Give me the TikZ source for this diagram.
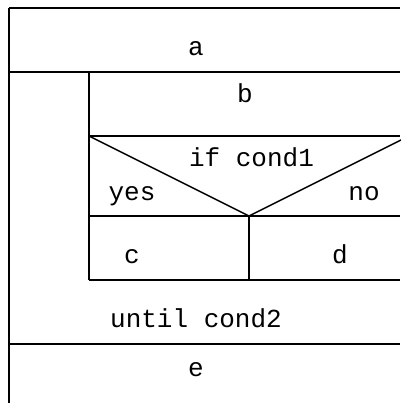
\documentclass[tikz,border=0pt]{standalone}
\usepackage{fontspec}
\setmonofont{Liberation Mono}
\begin{document}
\begin{tikzpicture}[x=1pt,y=-1pt,
  ln/.style={line width=1.5pt, black},
  lbl/.style={anchor=base, inner sep=0pt, font=\ttfamily\fontsize{26}{30}\selectfont}]
\useasboundingbox (0,0) rectangle (400,403);
% frame coordinates
\coordinate (tl) at (9,8);
\coordinate (tr) at (400,8);
\coordinate (al) at (9,72);
\coordinate (ar) at (400,72);
\coordinate (il) at (89,72);
\coordinate (bl) at (89,136);
\coordinate (br) at (400,136);
\coordinate (tip) at (249,216);
\coordinate (ytl) at (89,216);
\coordinate (ytr) at (400,216);
\coordinate (cl) at (89,280);
\coordinate (cr) at (400,280);
\coordinate (cm) at (249,280);
\coordinate (ul) at (9,344);
\coordinate (ur) at (400,344);
\coordinate (bot) at (9,403);
\coordinate (rtop) at (409,136);
% lines
\draw[ln] (tl) -- (tr);
\draw[ln] (tl) -- (bot);
\draw[ln] (al) -- (ar);
\draw[ln] (il) -- (cl);
\draw[ln] (bl) -- (br);
\draw[ln] (bl) -- (tip);
\draw[ln] (tip) -- (rtop);
\draw[ln] (ytl) -- (ytr);
\draw[ln] (tip) -- (cm);
\draw[ln] (cl) -- (cr);
\draw[ln] (ul) -- (ur);
% texts
\node[lbl] (a) at (196,56) {a};
\node[lbl] (b) at (245,103) {b};
\node[lbl] (cond1) at (251.5,167) {if cond1};
\node[lbl] (yes) at (132,200) {yes};
\node[lbl] (no) at (364,200) {no};
\node[lbl] (c) at (132,263) {c};
\node[lbl] (d) at (340,263) {d};
\node[lbl] (until) at (196,327) {until cond2};
\node[lbl] (e) at (196,376) {e};
\end{tikzpicture}
\end{document}
